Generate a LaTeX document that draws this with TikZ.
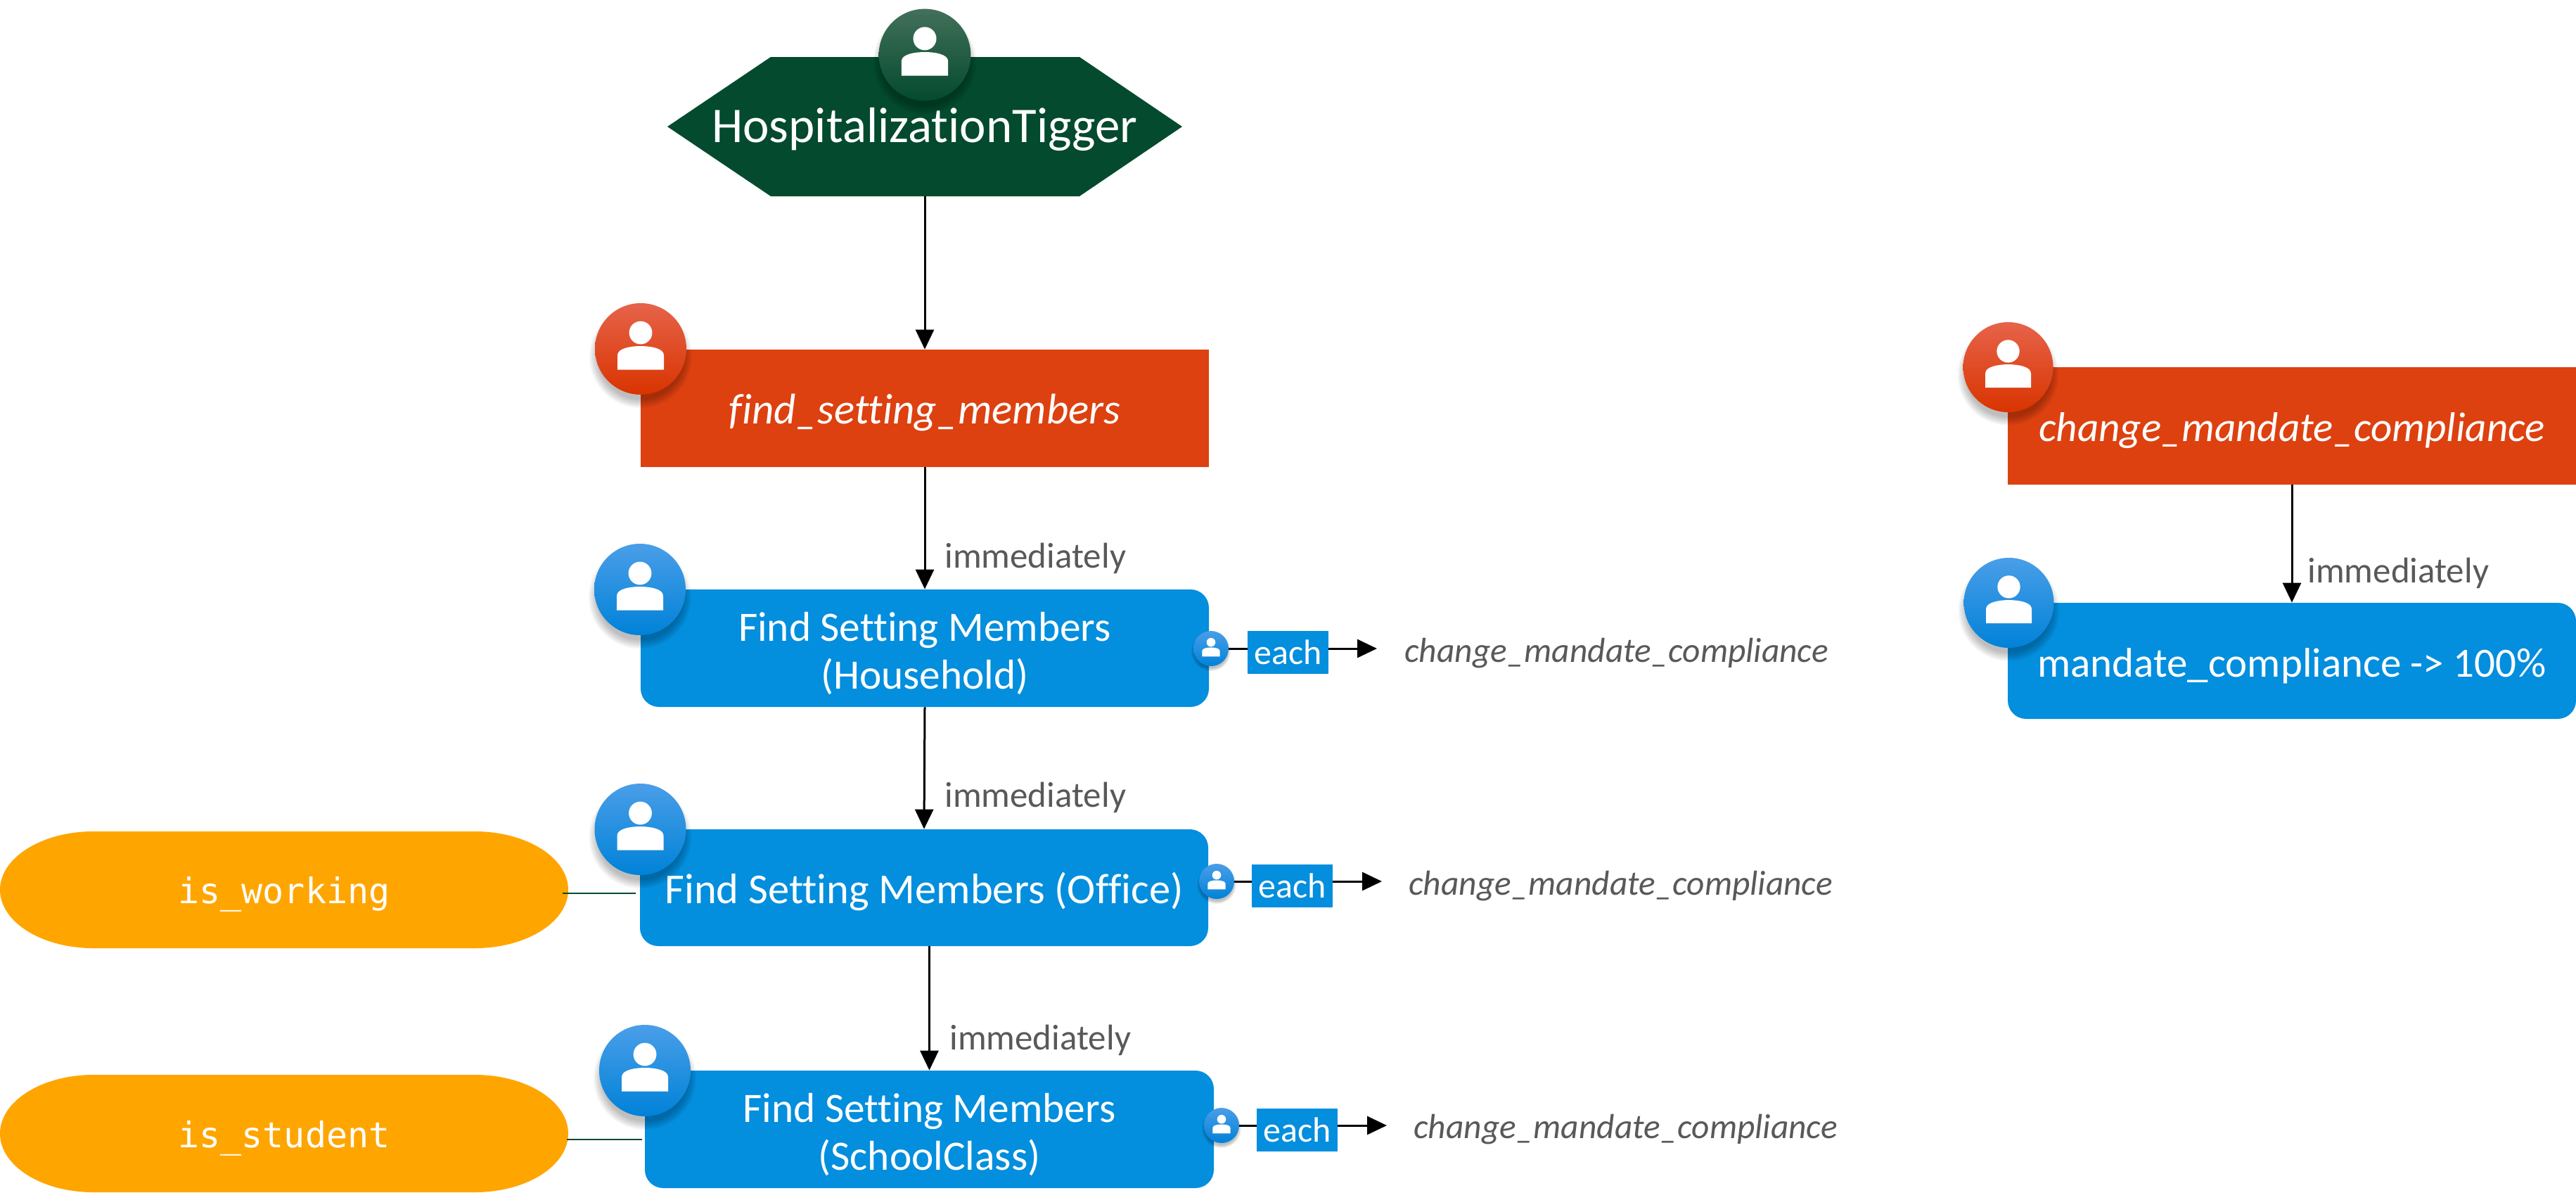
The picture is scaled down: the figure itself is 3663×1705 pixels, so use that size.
\documentclass[tikz,border=0pt]{standalone}
\usepackage{fontspec}
\setmainfont{Carlito}[Ligatures=NoCommon]
\newfontfamily\monof{DejaVu Sans Mono}
\usetikzlibrary{arrows.meta}
\definecolor{hexgreen}{HTML}{034A2E}
\definecolor{boxred}{HTML}{DD4110}
\definecolor{boxblue}{HTML}{048EDE}
\definecolor{pillorange}{HTML}{FFA500}
\definecolor{labelgray}{HTML}{595959}
\tikzset{
  x=0.5pt,y=-0.5pt,
  flow/.style={line width=1.5pt,draw=black,-{Triangle[width=13pt,length=14pt]}},
  plain/.style={line width=1.5pt,draw=black},
  stub/.style={line width=1pt,draw=hexgreen},
  redbox/.style={fill=boxred,inner sep=0pt,text=white},
  bluebox/.style={fill=boxblue,inner sep=0pt,text=white,rounded corners=13pt,align=center},
  eachbox/.style={fill=boxblue,inner sep=0pt,text=white,minimum width=57.5pt,minimum height=30.5pt,font=\fontsize{25}{25}\selectfont,text height=17pt,text depth=0pt},
  smalllabel/.style={text=labelgray,anchor=base west,inner sep=0pt,font=\fontsize{25.5}{26}\selectfont},
  targetlabel/.style={text=labelgray,anchor=base west,inner sep=0pt,font=\fontsize{24.7}{28}\selectfont\itshape},
  pilltext/.style={text=white,inner sep=0pt,font=\fontsize{25}{27}\selectfont\monof,text height=19pt,text depth=0pt},
  greenball/.style={top color=HexTop,middle color=HexMid,bottom color=hexgreen},
  redball/.style={top color=RedTop,middle color=RedMid,bottom color=RedBot},
  blueball/.style={top color=BlueTop,middle color=BlueMid,bottom color=BlueBot},
}
\definecolor{HexTop}{HTML}{43705A}
\definecolor{HexMid}{HTML}{0F5638}
\definecolor{RedTop}{HTML}{E6634A}
\definecolor{RedMid}{HTML}{E8400E}
\definecolor{RedBot}{HTML}{D93400}
\definecolor{BlueTop}{HTML}{4A9EE8}
\definecolor{BlueMid}{HTML}{0096EA}
\definecolor{BlueBot}{HTML}{0082D8}
% #1 name, #2 centre, #3 radius in pt, #4 ball style
\newcommand{\personball}[4]{%
  \foreach \k in {1,...,7}{%
    \fill[black,opacity=.04] ([yshift=-#3*0.17pt]#2) circle[radius={(#3+(\k-3)*#3*0.03)*1pt}];
  }%
  \node[circle,inner sep=0pt,minimum size=2*#3*1pt,#4] (#1) at (#2) {};
  \begin{scope}[shift={(#1.center)},scale=#3/32.5]
    \fill[white] (0,-23) ellipse[x radius=8.2pt,y radius=8.2pt];
    \fill[white] (-33,29.5) -- (-33,9) .. controls (-33,-1) and (-14,-4) .. (0,-4)
      .. controls (14,-4) and (33,-1) .. (33,9) -- (33,29.5) -- cycle;
  \end{scope}%
}
\begin{document}
\begin{tikzpicture}
\useasboundingbox (0,0) rectangle (3663,1705);
\fill[white] (0,0) rectangle (3663,1705);

% hexagon
\fill[hexgreen] (949,180) -- (1096,81) -- (1535,81) -- (1681,180) -- (1535,279) -- (1096,279) -- cycle;
\node[text=white,inner sep=0pt,minimum width=366pt,minimum height=99pt,font=\fontsize{35.5}{38}\selectfont,text height=22.5pt,text depth=0pt] (hosp) at (1315,180) {HospitalizationTigger};

% boxes
\node[redbox,minimum width=404pt,minimum height=83.5pt,font=\fontsize{30.5}{34}\selectfont\itshape,text height=21.5pt,text depth=0pt] (find) at (1315,580.5) {find\_setting\_members};
\node[bluebox,font=\fontsize{29.7}{34}\selectfont,minimum width=404pt,minimum height=83.5pt] (house) at (1315,921.5) {\rule{0pt}{28pt}Find Setting Members\\(Household)};
\node[bluebox,font=\fontsize{30.3}{34}\selectfont,minimum width=404pt,minimum height=83pt,text height=22.5pt,text depth=0pt] (office) at (1314,1262) {Find Setting Members (Office)};
\node[bluebox,font=\fontsize{29.7}{34}\selectfont,minimum width=404.5pt,minimum height=83.5pt] (school) at (1321.5,1605.5) {\rule{0pt}{28pt}Find Setting Members\\(SchoolClass)};
\node[redbox,minimum width=404pt,minimum height=83.5pt,font=\fontsize{29.5}{34}\selectfont\itshape,text height=21.5pt,text depth=0pt] (change) at (3259,605.5) {change\_mandate\_compliance};
\node[bluebox,font=\fontsize{29.5}{34}\selectfont,minimum width=404pt,minimum height=82.5pt,text height=22.5pt,text depth=0pt] (mand) at (3259,939.5) {mandate\_compliance -> 100\%};

% pills
\fill[pillorange] (133,1182) -- (675,1182) arc[start angle=90,end angle=-90,x radius=66.5pt,y radius=41.5pt] -- (133,1348) arc[start angle=270,end angle=90,x radius=66.5pt,y radius=41.5pt] -- cycle;
\fill[pillorange] (133,1528) -- (675,1528) arc[start angle=90,end angle=-90,x radius=66.5pt,y radius=41.75pt] -- (133,1695) arc[start angle=270,end angle=90,x radius=66.5pt,y radius=41.75pt] -- cycle;
\node[pilltext,minimum width=404pt] (work) at (404,1265) {is\_working};
\node[pilltext,minimum width=404pt] (stud) at (404,1612) {is\_student};

% stubs
\coordinate (s1) at (0,1270);
\coordinate (s2) at (0,1620);
\draw[stub,shorten <=-4pt,shorten >=3pt] (work.east |- s1) -- (office.west |- s1);
\draw[stub,shorten <=-1pt,shorten >=2pt] (stud.east |- s2) -- (school.west |- s2);

% flow arrows
\draw[flow] (hosp.south) -- (find.north);
\draw[flow] (find.south) -- (house.north);
\draw[flow] (house.south) -- (office.north);
\draw[flow] (school.north |- office.south) -- (school.north);
\draw[flow] (change.south) -- (mand.north);

% labels
\node[smalllabel] (im1) at (1343,807) {immediately};
\node[smalllabel] (im2) at (1343,1147) {immediately};
\node[smalllabel] (im3) at (1350,1492) {immediately};
\node[smalllabel] (im4) at (3281,828) {immediately};

% each groups
\coordinate (e1) at (1722,922);
\coordinate (e2) at (1730,1253);
\coordinate (e3) at (1737,1600);
\node[eachbox] (each1) at (1831.5,927.5) {each};
\node[eachbox] (each2) at (1837.5,1259.5) {each};
\node[eachbox] (each3) at (1844.5,1606) {each};
\coordinate (end1) at (1958,922);
\coordinate (end2) at (1965,1253);
\coordinate (end3) at (1972,1600);
\draw[plain] (e1) -- (each1.west |- e1);
\draw[plain] (e2) -- (each2.west |- e2);
\draw[plain] (e3) -- (each3.west |- e3);
\draw[flow] (each1.east |- e1) -- (end1);
\draw[flow] (each2.east |- e2) -- (end2);
\draw[flow] (each3.east |- e3) -- (end3);
\node[targetlabel] (t1) at (1997,941) {change\_mandate\_compliance};
\node[targetlabel] (t2) at (2003,1272) {change\_mandate\_compliance};
\node[targetlabel] (t3) at (2010,1618) {change\_mandate\_compliance};

% person balls
\personball{b0}{1315,78}{32.7}{greenball}
\personball{b1}{911,496}{32.5}{redball}
\personball{b2}{910,838}{32.5}{blueball}
\personball{b3}{910.5,1179}{32.5}{blueball}
\personball{b4}{917,1522}{32.5}{blueball}
\personball{b5}{2855.5,522}{32}{redball}
\personball{b6}{2856.5,857}{32}{blueball}
\personball{s1b}{e1}{12.5}{blueball}
\personball{s2b}{e2}{12.5}{blueball}
\personball{s3b}{e3}{12.5}{blueball}
\end{tikzpicture}
\end{document}
